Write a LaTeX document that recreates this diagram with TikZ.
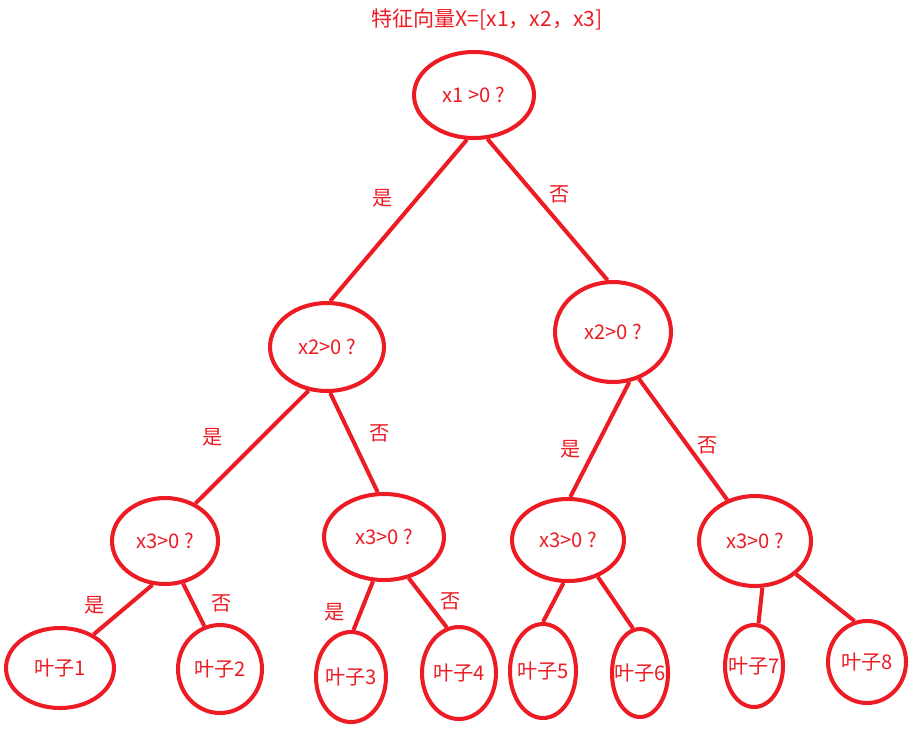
\documentclass[tikz,border=0pt]{standalone}
\usepackage{fontspec}
\setmainfont{Noto Sans CJK SC}
\usetikzlibrary{shapes.geometric}
\definecolor{paintred}{HTML}{ED1C24}

\begin{document}
\begin{tikzpicture}[x=0.02cm, y=-0.02cm,
  ell/.style={ellipse, draw=paintred, line width=2.3pt, inner sep=0pt},
  txt/.style={text=paintred, font=\fontsize{11.5}{13}\selectfont, inner sep=0pt},
  br/.style={paintred, line width=2.3pt}]
  \useasboundingbox (0,0) rectangle (919,738);
  \node[txt, font=\fontsize{12}{14}\selectfont] (title) at (487,19) {特征向量X=[x1，x2，x3]};
  % tests
  \node[ell, minimum width=2.4cm, minimum height=1.72cm, label={[txt]center:x1 >0 ?}] (root) at (474,95) {};
  \node[ell, minimum width=2.28cm, minimum height=1.76cm, label={[txt]center:x2>0 ?}] (t2a) at (327,347) {};
  \node[ell, minimum width=2.32cm, minimum height=2.0cm, label={[txt]center:x2>0 ?}] (t2b) at (613,332) {};
  \node[ell, minimum width=2.12cm, minimum height=1.72cm, label={[txt]center:x3>0 ?}] (t3a) at (165,541) {};
  \node[ell, minimum width=2.4cm, minimum height=1.72cm, label={[txt]center:x3>0 ?}] (t3b) at (384,537) {};
  \node[ell, minimum width=2.24cm, minimum height=1.64cm, label={[txt]center:x3>0 ?}] (t3c) at (568,540) {};
  \node[ell, minimum width=2.24cm, minimum height=1.8cm, label={[txt]center:x3>0 ?}] (t3d) at (755,541) {};
  % leaves
  \node[ell, minimum width=2.16cm, minimum height=1.6cm, label={[txt]center:叶子1}] (leaf1) at (60,668) {};
  \node[ell, minimum width=1.68cm, minimum height=1.76cm, label={[txt]center:叶子2}] (leaf2) at (220,669) {};
  \node[ell, minimum width=1.4cm, minimum height=1.8cm, label={[txt]center:叶子3}] (leaf3) at (351,677) {};
  \node[ell, minimum width=1.48cm, minimum height=1.84cm, label={[txt]center:叶子4}] (leaf4) at (459,673) {};
  \node[ell, minimum width=1.32cm, minimum height=1.88cm, label={[txt]center:叶子5}] (leaf5) at (543,671) {};
  \node[ell, minimum width=1.12cm, minimum height=1.76cm, label={[txt]center:叶子6}] (leaf6) at (640,673) {};
  \node[ell, minimum width=1.16cm, minimum height=1.64cm, label={[txt]center:叶子7}] (leaf7) at (754,666) {};
  \node[ell, minimum width=1.56cm, minimum height=1.64cm, label={[txt]center:叶子8}] (leaf8) at (867,662) {};
  % branches
  \draw[br] (root.261) -- (t2a.86);
  \draw[br] (root.287) -- (t2b.96);
  \draw[br] (t2a.247) -- (t3a.51);
  \draw[br] (t2a.274) -- (t3b.98);
  \draw[br] (t2b.288) -- (t3c.87);
  \draw[br] (t2b.299) -- (t3d.124);
  \draw[br] (t3a.254) -- (leaf1.45);
  \draw[br] (t3a.293) -- (leaf2.110);
  \draw[br] (t3b.256) -- (leaf3.87);
  \draw[br] (t3b.301) -- (leaf4.105);
  \draw[br] (t3c.264) -- (leaf5.90);
  \draw[br] (t3c.309) -- (leaf6.99);
  \draw[br] (t3d.279) -- (leaf7.84);
  \draw[br] (t3d.321) -- (leaf8.107);
  % yes / no
  \node[txt] (y1) at (383,198) {是};
  \node[txt] (n1) at (560,194) {否};
  \node[txt] (y2) at (213,437) {是};
  \node[txt] (n2) at (380,433) {否};
  \node[txt] (y3) at (571,449) {是};
  \node[txt] (n3) at (708,445) {否};
  \node[txt] (y4) at (95,605) {是};
  \node[txt] (n4) at (222,603) {否};
  \node[txt] (y5) at (335,612) {是};
  \node[txt] (n5) at (451,601) {否};
\end{tikzpicture}
\end{document}
